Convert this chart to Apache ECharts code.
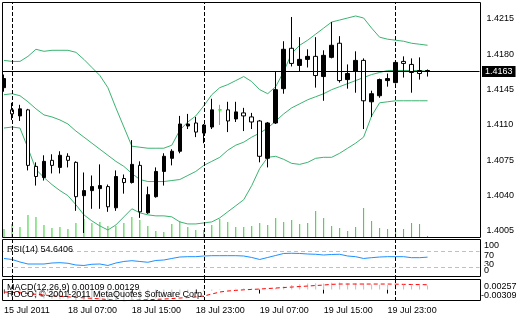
<!DOCTYPE html>
<html>
<head>
<meta charset="utf-8">
<script src="https://cdn.jsdelivr.net/npm/echarts@6/dist/echarts.min.js"></script>
<style>
  html, body { margin: 0; padding: 0; background: #fff; }
  #chart { width: 520px; height: 320px; }
</style>
</head>
<body>
<div id="chart"></div>
<script>
// EURUSD H1, 15 Jul 23:00 .. 20 Jul 04:00
const opens = [1.4156,1.4121,1.4126,1.4070,1.4059,1.4074,1.4070,1.4080,1.4075,1.4039,
  1.4045,1.4049,1.4050,1.4029,1.4059,1.4053,1.4071,1.4024,1.4041,1.4064,
  1.4079,1.4084,1.4111,1.4111,1.4103,1.4110,1.4125,1.4125,1.4114,1.4123,
  1.4119,1.4113,1.4079,1.4112,1.4145,1.4185,1.4171,1.4175,1.4178,1.4159,
  1.4179,1.4189,1.4154,1.4161,1.4174,1.4134,1.4141,1.4155,1.4156,1.4172,
  1.4171,1.4162,1.4161,1.4164];
const closes = [1.4147,1.4125,1.4119,1.4125,1.4069,1.4058,1.4075,1.4068,1.4079,1.4073,
  1.4040,1.4045,1.4047,1.4049,1.4028,1.4057,1.4053,1.4070,1.4023,1.4039,
  1.4064,1.4077,1.4084,1.4109,1.4112,1.4102,1.4108,1.4125,1.4125,1.4116,
  1.4122,1.4118,1.4114,1.4077,1.4112,1.4146,1.4186,1.4169,1.4175,1.4178,
  1.4158,1.4177,1.4191,1.4155,1.4163,1.4174,1.4133,1.4139,1.4154,1.4152,
  1.4173,1.4170,1.4164,1.4163];
const lows = [1.4143,1.4115,1.4114,1.4065,1.4050,1.4055,1.4062,1.4062,1.4068,1.4025,
  1.4003,1.4027,1.4027,1.4024,1.4025,1.4042,1.4052,1.4018,1.4022,1.4038,
  1.4050,1.4070,1.4082,1.4106,1.4098,1.4092,1.4106,1.4110,1.4103,1.4113,
  1.4104,1.4106,1.4073,1.4068,1.4111,1.4141,1.4168,1.4163,1.4167,1.4147,
  1.4134,1.4176,1.4152,1.4146,1.4142,1.4106,1.4118,1.4137,1.4148,1.4151,
  1.4157,1.4142,1.4155,1.4158];
const highs = [1.4160,1.4132,1.4130,1.4126,1.4073,1.4080,1.4081,1.4084,1.4082,1.4074,
  1.4063,1.4060,1.4071,1.4051,1.4065,1.4061,1.4095,1.4074,1.4049,1.4068,
  1.4082,1.4086,1.4119,1.4121,1.4118,1.4111,1.4136,1.4130,1.4133,1.4133,
  1.4127,1.4122,1.4115,1.4113,1.4163,1.4193,1.4217,1.4197,1.4185,1.4197,
  1.4184,1.4212,1.4198,1.4170,1.4183,1.4176,1.4144,1.4156,1.4161,1.4173,
  1.4178,1.4176,1.4177,1.4165];
const volumes = [80,130,100,220,200,120,90,100,80,140,180,140,150,110,110,140,200,170,110,60,
  50,130,160,100,70,70,120,180,150,100,100,110,140,120,190,150,170,130,140,260,
  190,110,90,60,100,290,160,90,80,80,80,140,130,10];

// Bollinger bands (20, 2)
const bandUpper = [1.4174,1.4173,1.4173,1.4178,1.4185,1.4183,1.4184,1.4184,1.4184,1.4182,
  1.4175,1.4167,1.4159,1.4147,1.4127,1.4108,1.4089,1.4088,1.4087,1.4087,
  1.4087,1.4090,1.4105,1.4113,1.4119,1.4129,1.4140,1.4147,1.4150,1.4154,
  1.4158,1.4153,1.4145,1.4141,1.4148,1.4163,1.4181,1.4189,1.4194,1.4200,
  1.4206,1.4212,1.4214,1.4216,1.4218,1.4216,1.4206,1.4197,1.4195,1.4194,
  1.4193,1.4191,1.4190,1.4189];
const bandMiddle = [1.4140,1.4141,1.4139,1.4133,1.4126,1.4120,1.4118,1.4115,1.4111,1.4104,
  1.4098,1.4092,1.4086,1.4080,1.4074,1.4069,1.4062,1.4056,1.4054,1.4054,
  1.4054,1.4055,1.4056,1.4060,1.4064,1.4070,1.4074,1.4078,1.4085,1.4090,
  1.4093,1.4098,1.4102,1.4107,1.4114,1.4121,1.4127,1.4131,1.4135,1.4138,
  1.4141,1.4145,1.4148,1.4151,1.4154,1.4157,1.4160,1.4162,1.4164,1.4164,
  1.4164,1.4164,1.4164,1.4163];
const bandLower = [1.4107,1.4108,1.4107,1.4087,1.4066,1.4058,1.4051,1.4045,1.4040,1.4031,
  1.4021,1.4015,1.4010,1.4006,1.4011,1.4019,1.4027,1.4023,1.4021,1.4020,
  1.4020,1.4019,1.4014,1.4012,1.4012,1.4013,1.4014,1.4018,1.4024,1.4030,
  1.4036,1.4050,1.4067,1.4078,1.4079,1.4076,1.4072,1.4071,1.4073,1.4077,
  1.4078,1.4078,1.4082,1.4087,1.4092,1.4098,1.4119,1.4132,1.4133,1.4134,
  1.4134,1.4134,1.4134,1.4134];

const rsiValues = [51.3,48.8,42.5,37.5,37.5,37.5,40,40.8,39.3,35,
  33.8,36.8,37.5,33.8,40,43.8,45.8,43.8,41.8,46.3,
  47.5,51.3,55,55.8,55.8,57.5,58.3,58.3,58.3,58.3,
  57.5,53.8,48.8,53.8,58.8,63.8,64.3,63.8,62.5,61.8,
  60,61.3,61.8,57.5,55.8,51.3,53.3,55,55.8,55.8,
  55.8,53.3,53.3,54.6406];
const rsiLevels = [70, 30];
const rsiScale = ['100', '70', '30', '0'];

const macdMain = [-0.0011,-0.0012,-0.0014,-0.0019,-0.0022,-0.0024,-0.0025,-0.0026,-0.0026,-0.0029,
  -0.0030,-0.0030,-0.0030,-0.00309,-0.0030,-0.0029,-0.0027,-0.0027,-0.0026,-0.0024,
  -0.0021,-0.0018,-0.0013,-0.0010,-0.0008,-0.0006,-0.0003,-0.0001,0.0001,0.0002,
  0.0003,0.0003,0.0002,0.0001,0.0004,0.0008,0.0012,0.0014,0.0016,0.0017,
  0.0016,0.0018,0.0019,0.0017,0.0017,0.0017,0.0014,0.0013,0.0012,0.0012,
  0.0012,0.0011,0.0011,0.00109];
const macdSignal = [-0.00067,-0.00075,-0.00089,-0.00108,-0.00129,-0.00148,-0.00167,-0.00183,-0.00197,-0.00210,
  -0.00224,-0.00237,-0.00251,-0.00270,-0.00291,-0.00302,-0.00291,-0.00283,-0.00275,-0.00264,
  -0.00256,-0.00243,-0.00229,-0.00216,-0.00202,-0.00175,-0.00121,-0.00067,-0.00040,-0.00022,
  -0.00008,0.00003,0.00013,0.00027,0.00040,0.00054,0.00067,0.00081,0.00094,0.00108,
  0.00121,0.00140,0.00148,0.00148,0.00148,0.00148,0.00148,0.00148,0.00148,0.00145,
  0.00140,0.00136,0.00132,0.00129];
const macdScale = ['0.00257', '-0.00309'];

const priceTicks = [1.4005, 1.4040, 1.4075, 1.4110, 1.4145, 1.4180, 1.4215];
const lastPrice = 1.4163;
const timeLabels = ['15 Jul 2011', '18 Jul 07:00', '18 Jul 15:00', '18 Jul 23:00',
  '19 Jul 07:00', '19 Jul 15:00', '19 Jul 23:00'];
const labelEvery = 8;
const dayStarts = [1, 25, 49]; // bars opening 18, 19, 20 Jul
const copyright = 'ROCO, \u00a9 2001-2011 MetaQuotes Software Corp.';

const SLOTS = 60; // bars + empty right margin
const FONT = 'Liberation Sans';

const categories = Array.from({ length: SLOTS }, (_, i) => String(i));
const candles = opens.map((o, i) => [o, closes[i], lows[i], highs[i]]);

const isLabelSlot = (i) => i % labelEvery === 0 && i / labelEvery < timeLabels.length;

const separatorLines = () => dayStarts.map((i) => ({
  xAxis: i,
  lineStyle: { color: '#000', type: [4, 2], width: 1 },
  label: { show: false }
}));

const hiddenX = (grid) => ({
  type: 'category', gridIndex: grid, data: categories, show: false
});

const paneText = (x, y, text, bg) => ({
  type: 'text', z: 110, silent: true,
  style: {
    x: x, y: y, text: text, fill: '#000', font: '9px "' + FONT + '"', verticalAlign: 'middle',
    backgroundColor: bg || 'transparent'
  }
});

const paneBox = (y, h) => ({
  type: 'rect', z: 100, silent: true,
  shape: { x: 2.5, y: y, width: 478, height: h },
  style: { fill: 'none', stroke: '#000', lineWidth: 1 }
});

const getOption = () => {
  const grids = [
    { left: -0.5, top: 2, width: 480, height: 236 },
    { left: -0.5, top: 137, width: 480, height: 100 },
    { left: -0.5, top: 239, width: 480, height: 40 },
    { left: -0.5, top: 280, width: 480, height: 21 }
  ];
  return {
    animation: false,
    backgroundColor: '#fff',
    grid: grids,
    xAxis: [
      hiddenX(0), hiddenX(1), hiddenX(2),
      {
        type: 'category', gridIndex: 3, data: categories,
        axisLine: { show: false },
        axisTick: {
          show: true, alignWithLabel: true, length: 4,
          interval: (i) => isLabelSlot(i),
          lineStyle: { color: '#000' }
        },
        axisLabel: {
          interval: (i) => isLabelSlot(i),
          formatter: (v, i) => timeLabels[i / labelEvery],
          align: 'left', margin: 5,
          fontFamily: FONT, fontSize: 9, color: '#000'
        }
      }
    ],
    yAxis: [
      {
        type: 'value', gridIndex: 0, position: 'right',
        min: 1.399807, max: 1.423185,
        axisLine: { show: false }, axisTick: { show: false }, splitLine: { show: false },
        axisLabel: {
          customValues: priceTicks, margin: 7,
          formatter: (v) => v.toFixed(4),
          fontFamily: FONT, fontSize: 9, color: '#000'
        }
      },
      { type: 'value', gridIndex: 1, min: 0, max: 1000, show: false },
      { type: 'value', gridIndex: 2, min: 0, max: 100, show: false },
      { type: 'value', gridIndex: 3, min: -0.00309, max: 0.00257, show: false }
    ],
    series: [
      {
        type: 'bar', name: 'Volumes', xAxisIndex: 1, yAxisIndex: 1,
        data: volumes, barWidth: 1, silent: true, z: 1,
        itemStyle: { color: '#32cd32' }
      },
      {
        type: 'line', name: 'BandUpper', xAxisIndex: 0, yAxisIndex: 0,
        data: bandUpper, symbol: 'none', silent: true, z: 2,
        lineStyle: { color: '#3cb371', width: 1 },
        markLine: {
          silent: true, symbol: ['none', 'none'], animation: false, precision: 4,
          data: [{
            yAxis: lastPrice,
            lineStyle: { color: '#000', type: 'solid', width: 1 },
            label: {
              show: true, position: 'end', distance: 2.5,
              formatter: lastPrice.toFixed(4),
              color: '#fff', backgroundColor: '#000',
              fontFamily: FONT, fontSize: 9, lineHeight: 10, padding: [1, 3, 0, 3]
            }
          }]
        }
      },
      {
        type: 'line', name: 'BandMiddle', xAxisIndex: 0, yAxisIndex: 0,
        data: bandMiddle, symbol: 'none', silent: true, z: 2,
        lineStyle: { color: '#3cb371', width: 1 }
      },
      {
        type: 'line', name: 'BandLower', xAxisIndex: 0, yAxisIndex: 0,
        data: bandLower, symbol: 'none', silent: true, z: 2,
        lineStyle: { color: '#3cb371', width: 1 }
      },
      {
        type: 'candlestick', name: 'EURUSD', xAxisIndex: 0, yAxisIndex: 0,
        data: candles, barWidth: 4, silent: true, z: 3,
        itemStyle: {
          color: '#fff', color0: '#000',
          borderColor: '#000', borderColor0: '#000', borderColorDoji: '#00ff00',
          borderWidth: 1
        },
        markLine: {
          silent: true, symbol: ['none', 'none'], animation: false,
          data: separatorLines()
        }
      },
      {
        type: 'line', name: 'RSI', xAxisIndex: 2, yAxisIndex: 2,
        data: rsiValues, symbol: 'none', silent: true, z: 3,
        lineStyle: { color: '#1e90ff', width: 1 },
        markLine: {
          silent: true, symbol: ['none', 'none'], animation: false,
          data: rsiLevels.map((v) => ({
            yAxis: v,
            lineStyle: { color: '#c0c0c0', type: [4, 3], width: 1 },
            label: { show: false }
          })).concat(separatorLines())
        }
      },
      {
        type: 'bar', name: 'MACD', xAxisIndex: 3, yAxisIndex: 3,
        data: macdMain, barWidth: 1, silent: true, z: 2,
        itemStyle: { color: '#c0c0c0' }
      },
      {
        type: 'line', name: 'Signal', xAxisIndex: 3, yAxisIndex: 3,
        data: macdSignal, symbol: 'none', silent: true, z: 3,
        lineStyle: { color: '#ff0000', width: 1, type: [4, 3] },
        markLine: {
          silent: true, symbol: ['none', 'none'], animation: false,
          data: separatorLines()
        }
      }
    ],
    graphic: [
      { type: 'rect', z: 95, silent: true, shape: { x: 0, y: 0, width: 2, height: 305 }, style: { fill: '#fff' } },
      paneBox(2.5, 235),
      paneBox(239.5, 37),
      paneBox(279.5, 21),
      paneText(7, 250, 'RSI(14) ' + rsiValues[rsiValues.length - 1].toFixed(4)),
      paneText(7, 288, 'MACD(12,26,9) ' + macdMain[macdMain.length - 1].toFixed(5) + ' ' +
        macdSignal[macdSignal.length - 1].toFixed(5)),
      paneText(7, 295, copyright),
      paneText(484, 255.5, rsiScale[1]),
      paneText(484, 264.5, rsiScale[2]),
      paneText(484, 245.5, rsiScale[0], '#fff'),
      paneText(484, 270.5, rsiScale[3], '#fff'),
      paneText(484, 287, macdScale[0]),
      paneText(481, 295.5, macdScale[1])
    ]
  };
};

const initChart = () => {
  const chart = echarts.init(document.getElementById('chart'), null, { renderer: 'canvas' });
  chart.setOption(getOption());
};

window.addEventListener('load', () => {
  initChart();
});
</script>
</body>
</html>
